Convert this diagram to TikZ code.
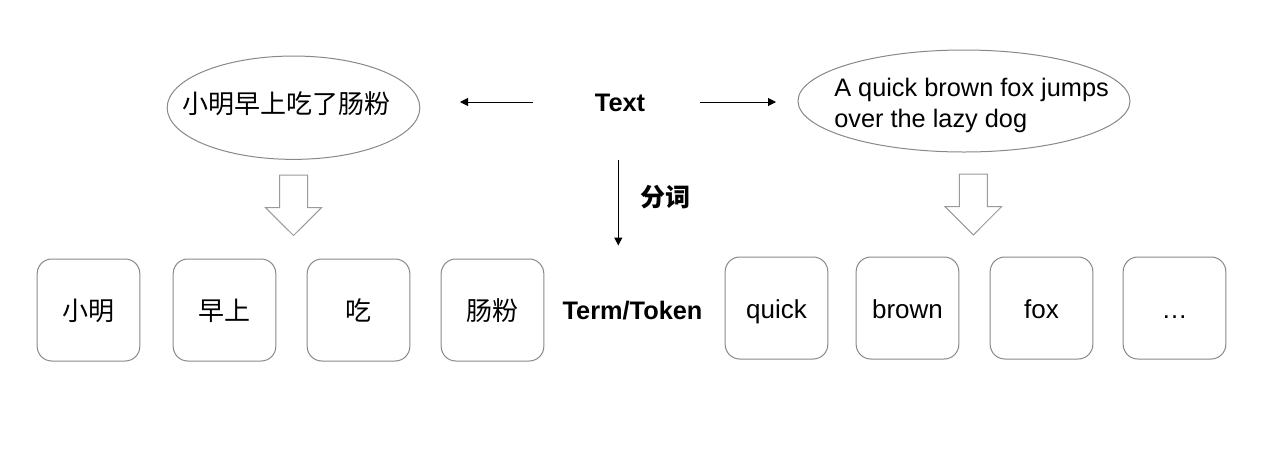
\documentclass[tikz,border=0pt]{standalone}
\usepackage{fontspec}
\setmainfont{Liberation Sans}
\newfontfamily\cjk{Noto Sans CJK SC}
\usetikzlibrary{arrows.meta,shapes.geometric}
\definecolor{edgegray}{HTML}{888888}
\definecolor{arrowgray}{HTML}{9A9A9A}
\tikzset{
  tokbox/.style={draw=edgegray,line width=0.75pt,rounded corners=11pt,minimum width=77pt,minimum height=76.5pt,inner sep=0pt,text height=18pt,text depth=3pt,font=\fontsize{19.5}{23}\selectfont},
  ovalbox/.style={draw=edgegray,line width=0.75pt,ellipse,inner sep=0pt},
  conn/.style={line width=0.75pt,-{Triangle[length=6pt,width=6pt]}},
  hollow/.style={draw=arrowgray,line width=0.75pt,fill=white,line join=miter},
  boldlbl/.style={font=\bfseries\fontsize{19}{22}\selectfont,inner sep=0pt}
}
\begin{document}
\begin{tikzpicture}[x=0.75pt,y=-0.75pt]
\useasboundingbox (0,0) rectangle (1272,451);
% ellipses
\node[ovalbox,minimum width=189.5pt,minimum height=77.5pt] (eL) at (293.5,107.7) {};
\node[inner sep=0pt,font=\cjk\fontsize{19.5}{23}\selectfont] (tL) at (286,104) {小明早上吃了肠粉};
\node[ovalbox,minimum width=249pt,minimum height=76.5pt] (eR) at (964,101) {};
\node[anchor=west,align=left,inner sep=0pt,font=\fontsize{19}{23.25}\selectfont] (tR) at (834,105) {A quick brown fox jumps\\over the lazy dog};
% center labels
\node[boldlbl] (text) at (620,103) {Text};
\node[boldlbl,font=\cjk\bfseries\fontsize{18.75}{22}\selectfont] (fenci) at (665,197) {分词};
\node[boldlbl] (term) at (632.5,311) {Term/Token};
% connector coordinates
\coordinate (aLs) at (533,102);
\coordinate (aLe) at (460,102);
\coordinate (aRs) at (700,102);
\coordinate (aRe) at (776,102);
\coordinate (vS) at (618.3,159.5);
\coordinate (vE) at (618.3,245.5);
\draw[conn] (aLs) -- (aLe);
\draw[conn] (aRs) -- (aRe);
\draw[conn] (vS) -- (vE);
% hollow arrows
\draw[hollow] (279.5,175) -- (307.5,175) -- (307.5,207.7) -- (321.5,207.7) -- (293.5,235.5) -- (265.5,207.7) -- (279.5,207.7) -- cycle;
\draw[hollow] (959.3,174) -- (987.3,174) -- (987.3,206.7) -- (1001.5,206.7) -- (973.3,235) -- (945,206.7) -- (959.3,206.7) -- cycle;
% token boxes
\node[tokbox,font=\cjk\fontsize{19.5}{23}\selectfont] (b1) at (88.5,310) {小明};
\node[tokbox,font=\cjk\fontsize{19.5}{23}\selectfont] (b2) at (224.5,310) {早上};
\node[tokbox,font=\cjk\fontsize{19.5}{23}\selectfont] (b3) at (358.5,310) {吃};
\node[tokbox,font=\cjk\fontsize{19.5}{23}\selectfont] (b4) at (492.5,310) {肠粉};
\node[tokbox] (b5) at (776.5,308) {quick};
\node[tokbox] (b6) at (907.5,308) {brown};
\node[tokbox] (b7) at (1041.5,308) {fox};
\node[tokbox] (b8) at (1174.5,308) {…};
\end{tikzpicture}
\end{document}
